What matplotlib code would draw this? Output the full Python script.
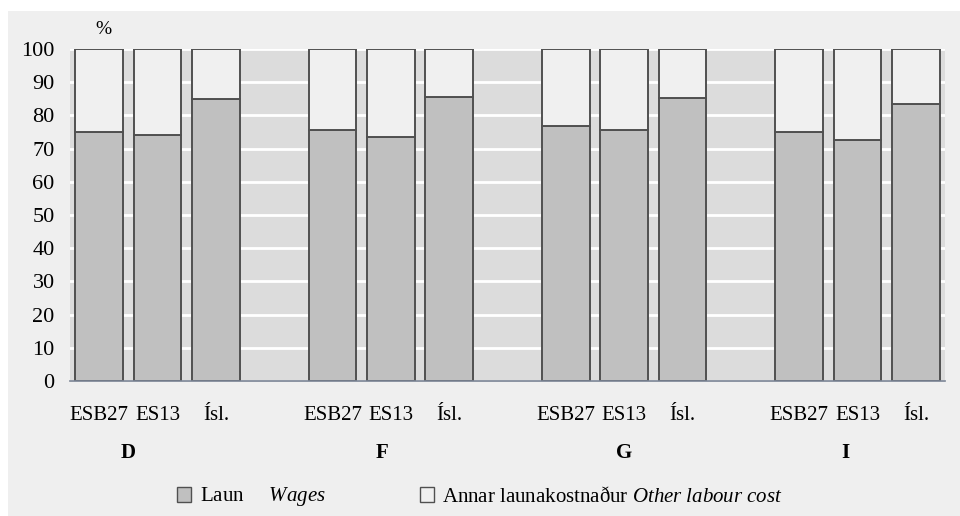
import numpy as np
import matplotlib
matplotlib.use('Agg')
import matplotlib.pyplot as plt
from matplotlib.patches import Rectangle, Patch

# Data
groups = ['D', 'F', 'G', 'I']
sources = ['ESB27', 'ES13', 'Ísl.']
wages = [
    [74.9, 74.2, 84.8],   # D
    [75.5, 73.6, 85.4],   # F
    [76.9, 75.7, 85.1],   # G
    [75.0, 72.6, 83.3],   # I
]
y_ticks = [0, 10, 20, 30, 40, 50, 60, 70, 80, 90, 100]

# Styling
plt.rcParams['font.family'] = ['Liberation Serif', 'DejaVu Serif']
plt.rcParams['mathtext.fontset'] = 'custom'
plt.rcParams['mathtext.rm'] = 'Liberation Serif'
plt.rcParams['mathtext.it'] = 'Liberation Serif:italic'
fs = 15
wage_color = '#c0c0c0'
other_color = '#f0f0f0'
edge_color = '#505050'

fig = plt.figure(figsize=(9.6, 5.16), dpi=100, facecolor='white')
# grey chart area with white strip at the top and left
fig.patches.append(Rectangle((8 / 960, 0), 1, (516 - 11) / 516,
                             transform=fig.transFigure, facecolor='#efefef',
                             edgecolor='none', zorder=-10))

ax = fig.add_axes([70 / 960, (516 - 381) / 516, 875 / 960, 332 / 516])
ax.set_facecolor('#dcdcdc')

# positions: 3 bars per group with one empty slot between groups
positions = []
labels = []
for g in range(len(groups)):
    for s in range(len(sources)):
        positions.append(g * (len(sources) + 1) + s)
        labels.append(sources[s])
positions = np.array(positions)
wage_vals = np.array(wages).ravel()
other_vals = 100 - wage_vals

ax.bar(positions, wage_vals, width=0.82, color=wage_color,
       edgecolor=edge_color, linewidth=1.4, zorder=3)
ax.bar(positions, other_vals, bottom=wage_vals, width=0.82,
       color=other_color, edgecolor=edge_color, linewidth=1.4, zorder=3)

ax.set_xlim(-0.5, positions[-1] + 0.5)
ax.set_ylim(0, 100)
ax.set_yticks(y_ticks)
ax.set_yticklabels([str(t) for t in y_ticks], fontsize=16)
ax.grid(axis='y', color='white', linewidth=2, zorder=1)
ax.set_axisbelow(True)
ax.tick_params(axis='y', length=0, pad=11)
ax.tick_params(axis='x', length=0, pad=18)
ax.set_xticks(positions)
ax.set_xticklabels(labels, fontsize=fs)

for side in ['top', 'right', 'left']:
    ax.spines[side].set_visible(False)
ax.spines['bottom'].set_color('#7a8494')
ax.spines['bottom'].set_linewidth(1.2)
ax.spines['bottom'].set_zorder(4)

# group labels under the categories
label_shift = [-0.5, -0.15, 0.0, -0.2]
for g, name in enumerate(groups):
    x = g * (len(sources) + 1) + 1 + label_shift[g]
    ax.text(x, -21.8, name, ha='center', va='center', fontsize=fs,
            fontweight='bold', transform=ax.transData, clip_on=False)

# axis unit
ax.text(0.038, 1.06, '%', transform=ax.transAxes, ha='center', va='center',
        fontsize=14)

handles = [
    Patch(facecolor=wage_color, edgecolor=edge_color, linewidth=1),
    Patch(facecolor=other_color, edgecolor=edge_color, linewidth=1),
]
leg_labels = [
    'Laun     $\\it{Wages}$',
    'Annar launakostnaður $\\it{Other\\ labour\\ cost}$',
]
fig.legend(handles, leg_labels, loc='center', bbox_to_anchor=(0.5, (516 - 497) / 516),
           ncol=2, frameon=False, fontsize=fs, handlelength=0.7, handleheight=0.7,
           handletextpad=0.4, columnspacing=4.5)

fig.savefig('out.png', dpi=100, facecolor=fig.get_facecolor())
